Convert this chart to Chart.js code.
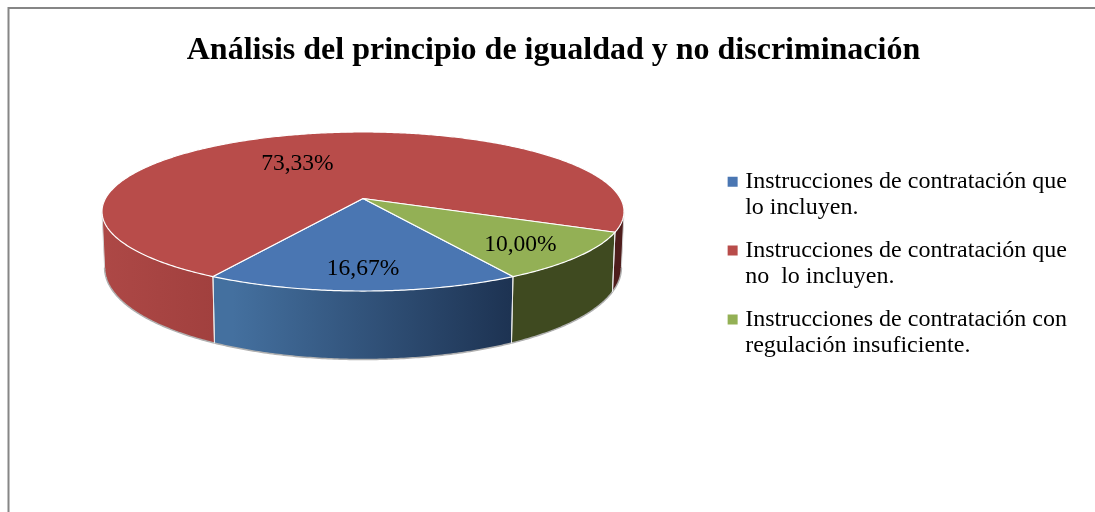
<!DOCTYPE html>
<html>
<head>
<meta charset="utf-8">
<style>
  html, body { margin: 0; padding: 0; background: #fff; }
  canvas { display: block; }
</style>
<script src="https://cdn.jsdelivr.net/npm/chart.js"></script>
</head>
<body>
<canvas id="pie" width="1095" height="512"></canvas>
<script>
const titleText = 'Análisis del principio de igualdad y no discriminación';
const categories = [
  ['Instrucciones de contratación que', 'lo incluyen.'],
  ['Instrucciones de contratación que', 'no  lo incluyen.'],
  ['Instrucciones de contratación con', 'regulación insuficiente.']
];
const shares = [16.67, 73.33, 10.00];

const topColors = ['#4a76b2', '#b84c4a', '#93b055'];
const wallStops = [
  [[0, '#44709f'], [0.25, '#44709f'], [0.8, '#1c3150'], [1, '#1c3150']],
  [[0, '#ad4846'], [0.22, '#a1403e'], [0.9, '#4e1d1c'], [1, '#4e1d1c']],
  [[0, '#3f4a20'], [1, '#3f4a20']]
];
// where each percent sits on its slice: share of the radius, turn from mid angle (deg)
const labelRadius = [0.783, 0.568, 0.775];
const labelTurn = [0, -11, 2];

// the look of the pie: perspective ellipse whose centre is not the ellipse middle
const view = { x: 363, y: 198.5, rx: 257.5, ry: 77.4, tilt: 0.1635 };
const wall = { shrink: 0.99, base: 53.5, front: 15 };
const serif = '"Liberation Serif", "Times New Roman", serif';

function topPoint(angle) {
  const u = Math.cos(angle), v = Math.sin(angle), w = 1 - view.tilt * v;
  return { x: view.x + view.rx * u / w, y: view.y + view.ry * v / w };
}

function bottomPoint(angle) {
  const p = topPoint(angle);
  return {
    x: view.x + (p.x - view.x) * wall.shrink,
    y: p.y + wall.base + wall.front * Math.sin(angle)
  };
}

function sweep(start, end) {
  const out = [];
  const n = Math.max(2, Math.ceil((end - start) / 0.01));
  for (let i = 0; i <= n; i++) out.push(start + (end - start) * i / n);
  return out;
}

function area(pts) {
  let sum = 0;
  pts.forEach((p, i) => {
    const q = pts[(i + 1) % pts.length];
    sum += p.x * q.y - q.x * p.y;
  });
  return sum;
}

class Pie3DController extends Chart.PieController {
  static id = 'pie3d';

  draw() {
    const ctx = this.chart.ctx;
    const arcs = this._cachedMeta.data;
    ctx.save();
    ctx.lineJoin = 'round';

    // side walls: quads in one path, same winding, so no seams. back half is hidden anyway
    arcs.forEach((arc, i) => {
      const angles = sweep(arc.startAngle, arc.endAngle);
      const grad = ctx.createLinearGradient(view.x - 261, 0, view.x + 261, 0);
      wallStops[i].forEach(s => grad.addColorStop(s[0], s[1]));
      ctx.beginPath();
      for (let k = 1; k < angles.length; k++) {
        if (Math.sin(angles[k]) < 0 || Math.sin(angles[k - 1]) < 0) continue;
        const quad = [topPoint(angles[k - 1]), topPoint(angles[k]), bottomPoint(angles[k]), bottomPoint(angles[k - 1])];
        if (area(quad) < 0) quad.reverse();
        quad.forEach((p, n) => (n ? ctx.lineTo(p.x, p.y) : ctx.moveTo(p.x, p.y)));
        ctx.closePath();
      }
      ctx.fillStyle = grad;
      ctx.fill();
    });

    // grey lower rim
    const edge = Math.asin(view.tilt);
    arcs.forEach(arc => {
      ctx.beginPath();
      let pen = false;
      sweep(arc.startAngle, arc.endAngle).forEach(a => {
        if (Math.sin(a) < view.tilt) { pen = false; return; }
        const p = bottomPoint(a);
        pen ? ctx.lineTo(p.x, p.y) : ctx.moveTo(p.x, p.y);
        pen = true;
      });
      ctx.strokeStyle = '#b0b0b0';
      ctx.lineWidth = 1.5;
      ctx.stroke();
    });
    [edge, Math.PI - edge].forEach(a => {
      const p = topPoint(a), q = bottomPoint(a);
      ctx.beginPath();
      ctx.moveTo(p.x, p.y);
      ctx.lineTo(q.x, q.y);
      ctx.strokeStyle = '#d4d4d4';
      ctx.lineWidth = 1;
      ctx.stroke();
    });

    // white edges between the walls
    arcs.forEach(arc => {
      [arc.startAngle, arc.endAngle].forEach(a => {
        if (Math.sin(a) < 0) return;
        const p = topPoint(a), q = bottomPoint(a);
        ctx.beginPath();
        ctx.moveTo(p.x, p.y);
        ctx.lineTo(q.x, q.y);
        ctx.strokeStyle = '#e8e8e8';
        ctx.lineWidth = 1;
        ctx.stroke();
      });
    });

    // top faces
    arcs.forEach((arc, i) => {
      ctx.beginPath();
      ctx.moveTo(view.x, view.y);
      sweep(arc.startAngle, arc.endAngle).forEach(a => {
        const p = topPoint(a);
        ctx.lineTo(p.x, p.y);
      });
      ctx.closePath();
      ctx.fillStyle = topColors[i];
      ctx.fill();
      ctx.strokeStyle = '#fff';
      ctx.lineWidth = 1.2;
      ctx.stroke();
    });

    // percent labels
    ctx.fillStyle = '#000';
    ctx.font = '23.5px ' + serif;
    ctx.textAlign = 'center';
    ctx.textBaseline = 'middle';
    arcs.forEach((arc, i) => {
      const a = (arc.startAngle + arc.endAngle) / 2 + labelTurn[i] * Math.PI / 180;
      const r = labelRadius[i];
      const v = r * Math.sin(a), w = 1 - view.tilt * v;
      const x = view.x + view.rx * r * Math.cos(a) / w;
      const y = view.y + view.ry * v / w;
      ctx.fillText(shares[i].toFixed(2).replace('.', ',') + '%', x, y + 1);
    });
    ctx.restore();
  }
}
Chart.register(Pie3DController);

// chart frame: only the top and left edges fall inside the picture
const framePlugin = {
  id: 'frame',
  beforeDraw(chart) {
    const ctx = chart.ctx;
    ctx.save();
    ctx.strokeStyle = '#868686';
    ctx.lineWidth = 2;
    ctx.beginPath();
    ctx.moveTo(8.5, chart.height);
    ctx.lineTo(8.5, 8);
    ctx.lineTo(chart.width, 8);
    ctx.stroke();
    ctx.restore();
  }
};

new Chart(document.getElementById('pie').getContext('2d'), {
  type: 'pie3d',
  data: {
    labels: categories,
    datasets: [{
      data: shares,
      backgroundColor: topColors,
      borderColor: topColors,
      borderWidth: 9
    }]
  },
  options: {
    responsive: false,
    animation: false,
    rotation: 150,
    layout: { padding: { left: 30, right: 18, top: 8, bottom: -10 } },
    plugins: {
      title: {
        display: true,
        text: titleText,
        color: '#000',
        font: { family: serif, size: 32, weight: 'bold', lineHeight: 1.2 },
        padding: { top: 24, bottom: 37 }
      },
      legend: {
        position: 'right',
        labels: {
          color: '#000',
          // tiny box + thick border gives a 10px swatch with a tight gap to the text
          boxWidth: 1,
          boxHeight: 1,
          padding: 16,
          font: { family: serif, size: 24, lineHeight: 1.1 }
        }
      },
      tooltip: { enabled: false }
    }
  },
  plugins: [framePlugin]
});
</script>
</body>
</html>
